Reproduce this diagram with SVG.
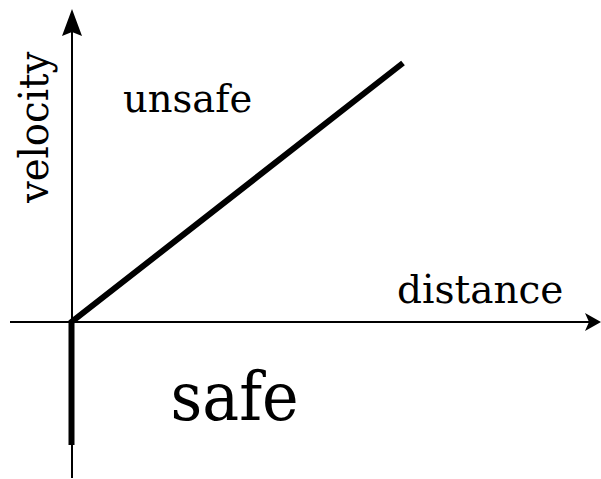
<svg xmlns="http://www.w3.org/2000/svg" width="601" height="479" viewBox="0 0 601 479">
<style>
.t{font-family:"DejaVu Serif",serif;fill:#000}
.ax{stroke:#000;stroke-width:2;fill:none}
.thick{stroke:#000;stroke-width:6;fill:none}
</style>
<rect width="601" height="479" fill="#fff"/>
<g id="axes">
<line class="ax" x1="72" y1="478" x2="72" y2="30"/>
<path d="M72 9 L82 36 L72 32 L62 36 Z" fill="#000"/>
<line class="ax" x1="10" y1="322" x2="590" y2="322"/>
<path d="M601 322 L585 313 L589 322 L585 331 Z" fill="#000"/>
</g>
<g id="boundary">
<polyline class="thick" points="71.5,445 71.5,322 403,63"/>
</g>
<g id="labels">
<text class="t" font-size="41" transform="translate(48,203) rotate(-90) scale(0.94,1)">velocity</text>
<text id="unsafe" class="t" font-size="38.5" x="123" y="112">unsafe</text>
<text id="distance" class="t" font-size="39" x="397" y="303">distance</text>
<text id="safe" class="t" font-size="68" transform="translate(170.5,420) scale(0.91,1)">safe</text>
</g>
</svg>
